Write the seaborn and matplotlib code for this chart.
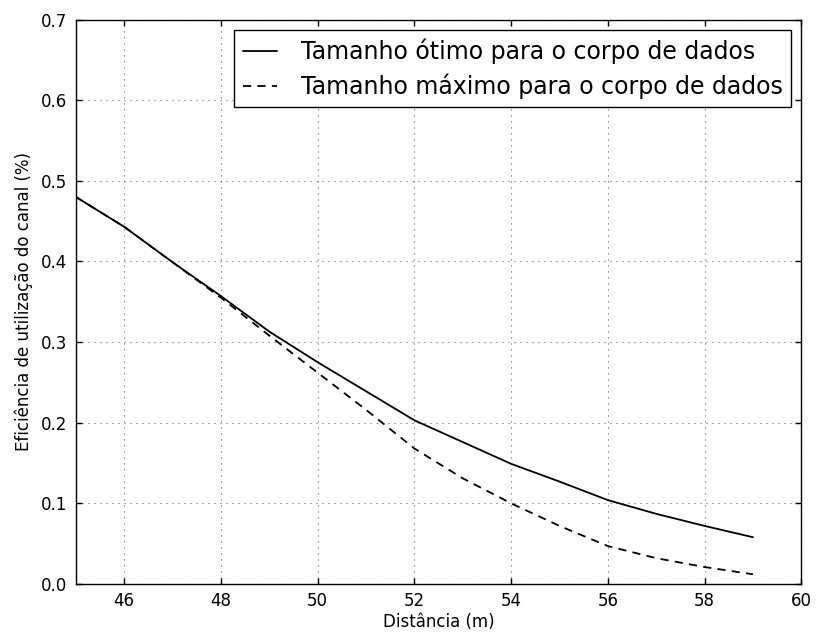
import matplotlib
matplotlib.use("Agg")
import matplotlib.pyplot as plt
import seaborn as sns
import pandas as pd

# Channel utilisation efficiency versus distance
distancia = [45, 46, 47, 48, 49, 50, 51, 52, 53, 54, 55, 56, 57, 58, 59]
eficiencia_otimo = [0.480, 0.443, 0.399, 0.357, 0.313, 0.275, 0.239, 0.203,
                    0.176, 0.149, 0.127, 0.104, 0.087, 0.072, 0.058]
eficiencia_maximo = [0.480, 0.443, 0.399, 0.355, 0.308, 0.262, 0.216, 0.168,
                     0.131, 0.100, 0.072, 0.047, 0.032, 0.021, 0.012]

rotulo_otimo = "Tamanho ótimo para o corpo de dados"
rotulo_maximo = "Tamanho máximo para o corpo de dados"

df = pd.DataFrame({
    "Distância": distancia * 2,
    "Eficiência": eficiencia_otimo + eficiencia_maximo,
    "Série": [rotulo_otimo] * len(distancia) + [rotulo_maximo] * len(distancia),
})

sns.set_style("ticks")
plt.rcParams["font.family"] = ["DejaVu Sans"]
plt.rcParams["xtick.direction"] = "in"
plt.rcParams["ytick.direction"] = "in"
plt.rcParams["text.color"] = "black"
plt.rcParams["axes.labelcolor"] = "black"
plt.rcParams["xtick.color"] = "black"
plt.rcParams["ytick.color"] = "black"

tracejado = (4.5, 3.5)

fig = plt.figure(figsize=(8.16, 6.32), dpi=100)
ax = fig.add_axes([0.093, 0.076, 0.889, 0.893])

sns.lineplot(data=df, x="Distância", y="Eficiência", hue="Série", style="Série",
             palette=["black", "black"], dashes=[(None, None), tracejado],
             linewidth=1.3, ax=ax, legend=False)

ax.set_xlim(45, 60)
ax.set_ylim(0, 0.7)
ax.set_xticks([46, 48, 50, 52, 54, 56, 58, 60])
ax.set_yticks([0.0, 0.1, 0.2, 0.3, 0.4, 0.5, 0.6, 0.7])
ax.set_yticklabels(["0.0", "0.1", "0.2", "0.3", "0.4", "0.5", "0.6", "0.7"])
ax.tick_params(axis="both", labelsize=12, length=4, width=1, color="black",
               labelcolor="black", top=True, right=True, pad=6)
ax.grid(True, linestyle=(0, (1, 4.4)), color="black", linewidth=0.8, alpha=0.6)
for s in ax.spines.values():
    s.set_visible(True)
    s.set_color("black")
    s.set_linewidth(1.0)

ax.set_xlabel("Distância (m)", fontsize=12, labelpad=2)
ax.set_ylabel("Eficiência de utilização do canal (%)", fontsize=12, labelpad=6)

h1, = ax.plot([], [], color="black", linewidth=1.3, label=rotulo_otimo)
h2, = ax.plot([], [], color="black", linewidth=1.3, dashes=tracejado, label=rotulo_maximo)
leg = ax.legend(handles=[h1, h2], loc="upper right", fontsize=17,
                fancybox=False, framealpha=1, edgecolor="black",
                handlelength=1.45, handletextpad=1.0, borderpad=0.35,
                labelspacing=0.4, borderaxespad=0.45)
leg.get_frame().set_linewidth(1.0)
for t in leg.get_texts():
    t.set_color("black")

fig.savefig("out.png", dpi=100, facecolor="white")
